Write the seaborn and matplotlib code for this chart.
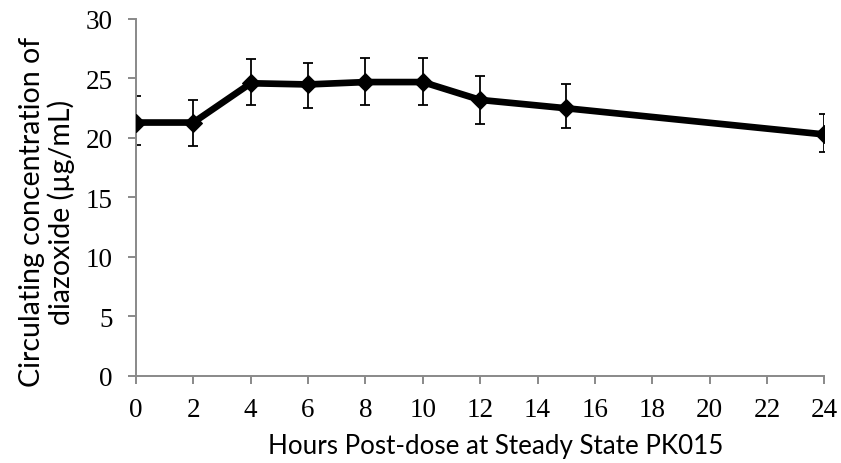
import matplotlib
matplotlib.use("Agg")
import matplotlib.pyplot as plt
import seaborn as sns
import pandas as pd

hours = [0, 2, 4, 6, 8, 10, 12, 15, 24]
conc = [21.3, 21.3, 24.6, 24.5, 24.7, 24.7, 23.2, 22.5, 20.3]
err_upper = [2.2, 1.9, 2.0, 1.8, 2.0, 2.0, 2.0, 2.0, 1.7]
err_lower = [1.9, 2.0, 1.8, 2.0, 1.9, 1.9, 2.0, 1.7, 1.5]
x_ticks = [0, 2, 4, 6, 8, 10, 12, 14, 16, 18, 20, 22, 24]
y_ticks = [0, 5, 10, 15, 20, 25, 30]

df = pd.DataFrame({"hours": hours, "conc": conc})

sns.set_style("white")
fig = plt.figure(figsize=(8.41, 4.64), dpi=100)
ax = fig.add_axes([0.1617, 0.1875, 0.8186, 0.7694])

ax.errorbar(hours, conc, yerr=[err_lower, err_upper], fmt="none",
            ecolor="black", elinewidth=1.3, capsize=3.6, capthick=1.3, zorder=2)
sns.lineplot(data=df, x="hours", y="conc", ax=ax, color="black",
             linewidth=4.8, marker="D", markersize=9.5, markeredgecolor="black",
             markerfacecolor="black", zorder=3)

ax.set_xlim(0, 24)
ax.set_ylim(0, 30)
ax.set_xticks(x_ticks)
ax.set_yticks(y_ticks)
ax.set_xticklabels([str(v) for v in x_ticks], fontfamily="Liberation Serif", fontsize=19.5)
ax.set_yticklabels([str(v) for v in y_ticks], fontfamily="Liberation Serif", fontsize=19.5)

for s in ["top", "right"]:
    ax.spines[s].set_visible(False)
for s in ["left", "bottom"]:
    ax.spines[s].set_color("#898989")
    ax.spines[s].set_linewidth(1.4)
ax.tick_params(axis="both", which="both", direction="out", length=6, width=1.4,
               color="#898989", labelcolor="black", left=True, bottom=True)
ax.tick_params(axis="x", pad=9)
ax.tick_params(axis="y", pad=11)

ax.set_xlabel("Hours Post-dose at Steady State PK015", fontfamily="Lato",
              fontsize=18.7, color="black")
ax.xaxis.set_label_coords(0.523, -0.16)
ax.set_ylabel("Circulating concentration of\ndiazoxide (µg/mL)", fontfamily="Lato",
              fontsize=20.5, color="black", linespacing=1.08)
ax.yaxis.set_label_coords(-0.089, 0.462)

fig.savefig("out.png", dpi=100)
